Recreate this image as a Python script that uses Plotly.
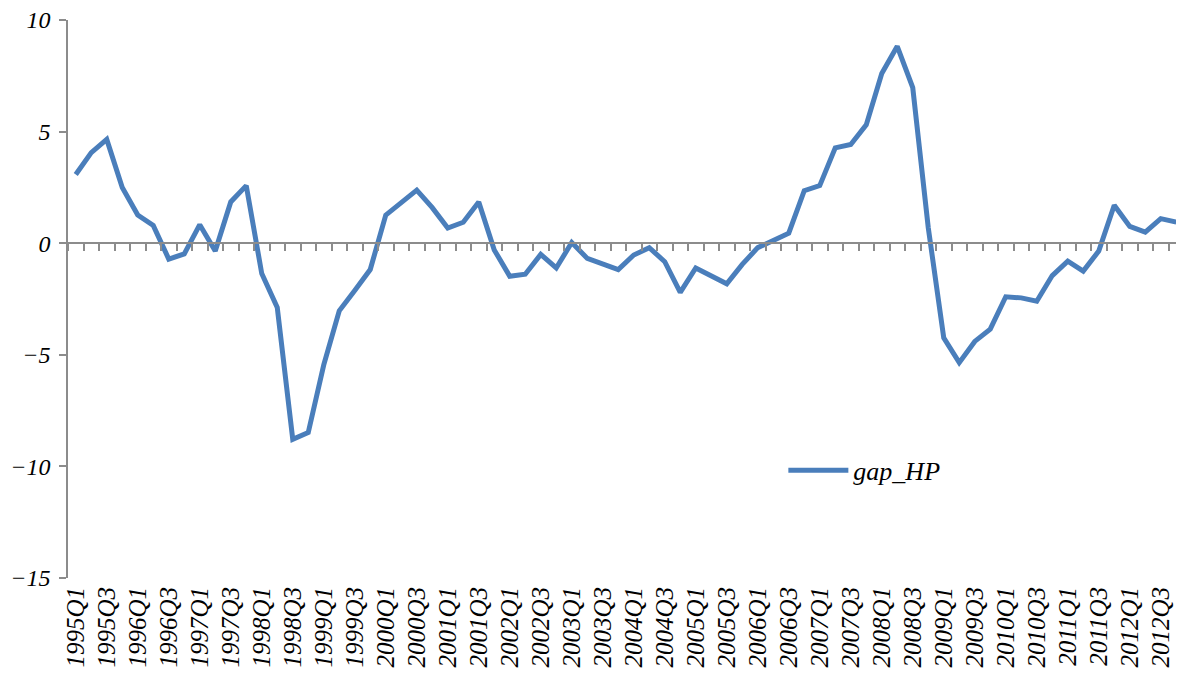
import plotly.graph_objects as go

quarters = [f"{y}Q{q}" for y in range(1995, 2013) for q in range(1, 5)]
gap_hp = [
    3.08, 4.06, 4.65, 2.50,
    1.26, 0.80, -0.71, -0.48,
    0.83, -0.35, 1.85, 2.58,
    -1.36, -2.88, -8.79, -8.48,
    -5.45, -3.03, -2.12, -1.18,
    1.26, 1.82, 2.38, 1.59,
    0.68, 0.94, 1.85, -0.30,
    -1.48, -1.39, -0.50, -1.11,
    0.03, -0.68, -0.91, -1.18,
    -0.53, -0.20, -0.83, -2.20,
    -1.11, -1.44, -1.82, -0.95,
    -0.20, 0.12, 0.45, 2.35,
    2.58, 4.27, 4.42, 5.30,
    7.60, 8.82, 6.97, 0.70,
    -4.24, -5.35, -4.40, -3.85,
    -2.40, -2.45, -2.60, -1.45,
    -0.80, -1.25, -0.35, 1.70,
    0.75, 0.50, 1.10, 0.95,
]
series_name = "gap_HP"

idx = list(range(len(quarters)))
label_idx = idx[::2]
label_txt = quarters[::2]

LINE = "#4A7EBB"
AXIS = "#8C8C8C"
FAM = "Liberation Serif, Times New Roman, Times, serif"
font_x = dict(family=FAM, size=25, color="#000000", style="italic")
font_y = dict(family=FAM, size=24, color="#000000", style="italic")
font_leg = dict(family=FAM, size=26, color="#000000", style="italic")

fig = go.Figure()
# invisible helper so the zero-crossing axis is drawn
fig.add_trace(go.Scatter(x=idx, y=gap_hp, xaxis="x2", yaxis="y", mode="lines",
                         line=dict(width=0, color="rgba(0,0,0,0)"),
                         showlegend=False, hoverinfo="skip"))
fig.add_trace(go.Scatter(x=idx, y=gap_hp, mode="lines", name=series_name,
                         line=dict(color=LINE, width=5)))

xr = [-0.5, len(quarters) - 0.5]
# page body has an 8px margin, so the figure is 8px smaller and margins shifted
fig.update_layout(
    width=1176, height=669,
    margin=dict(l=60, r=0, t=12, b=99),
    paper_bgcolor="white", plot_bgcolor="white",
    showlegend=True,
    legend=dict(x=0.641, y=0.193, xanchor="left", yanchor="middle",
                font=font_leg, bgcolor="rgba(0,0,0,0)", itemwidth=60,
                tracegroupgap=0),
    xaxis=dict(range=xr, tickmode="array", tickvals=label_idx, ticktext=label_txt,
               tickangle=-90, tickfont=font_x, showline=False, ticks="",
               showgrid=False, zeroline=False, automargin=False,
               ticklabelstandoff=3, ticklabeloverflow="allow"),
    xaxis2=dict(range=xr, overlaying="x", anchor="free", position=0.6, side="bottom",
                showline=True, linecolor=AXIS, linewidth=1.5,
                ticks="outside", tick0=-0.5, dtick=1, ticklen=7, tickwidth=1.5,
                tickcolor=AXIS, showticklabels=False, showgrid=False,
                zeroline=False),
    yaxis=dict(range=[-15, 10], tick0=-15, dtick=5, ticks="outside", ticklen=7,
               tickwidth=1.5, tickcolor=AXIS, showline=True, linecolor=AXIS,
               linewidth=1.5, showgrid=False, zeroline=False, tickfont=font_y,
               automargin=False, ticklabelstandoff=4, ticklabeloverflow="allow"),
)

fig.write_html("out.html")
